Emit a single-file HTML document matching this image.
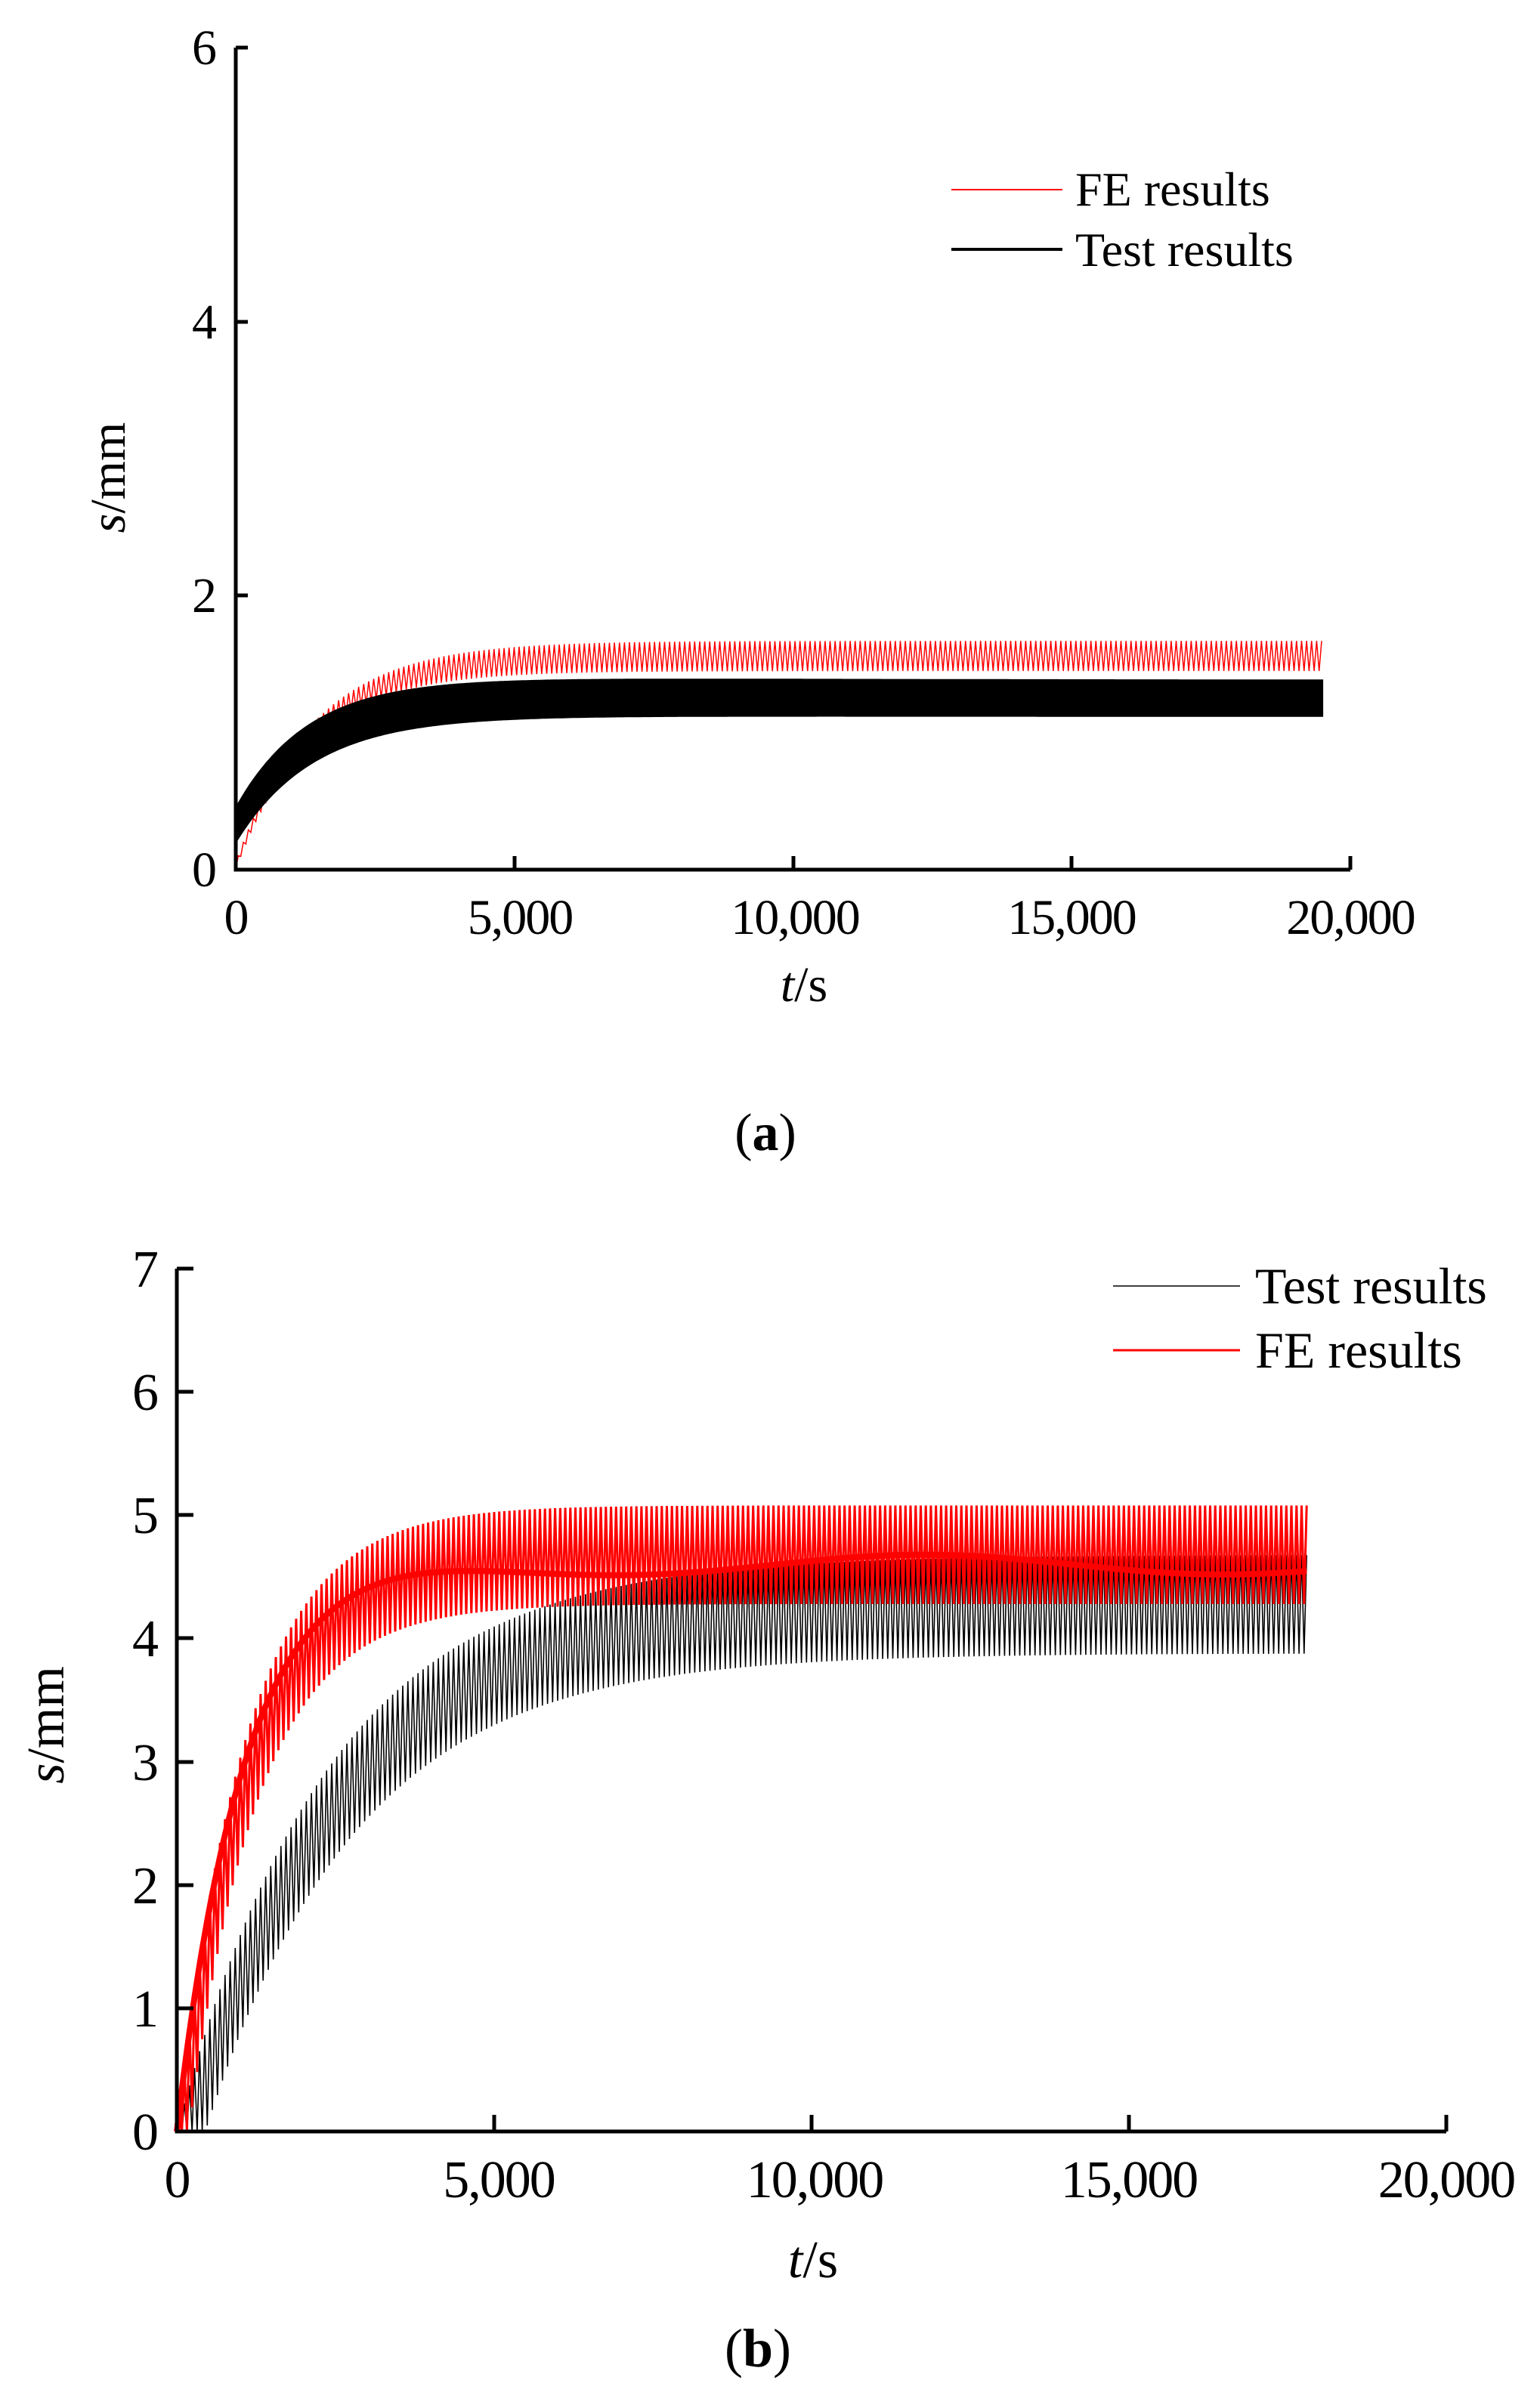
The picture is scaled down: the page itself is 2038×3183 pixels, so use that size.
<!DOCTYPE html>
<html><head><meta charset="utf-8">
<style>
html,body{margin:0;padding:0;background:#fff;}
svg{display:block;}
</style></head>
<body>
<svg id="s" width="2038" height="3183" xmlns="http://www.w3.org/2000/svg" font-family="Liberation Serif, Times New Roman, serif">
<g id="a"></g>
<g id="b"></g>
<!-- Panel a axes -->
<g stroke="#000" stroke-width="5" fill="none">
<path d="M312,63 L312,1151 L1787,1151"/>
<path d="M312,63 h16 M312,426 h16 M312,788 h16 M312,1151 h16"/>
<path d="M681,1151 v-18 M1050,1151 v-18 M1418,1151 v-18 M1787,1151 v-18"/>
</g>
<g font-size="66" text-anchor="end">
<text x="287" y="85">6</text><text x="287" y="448">4</text><text x="287" y="810">2</text><text x="287" y="1173">0</text>
</g>
<g font-size="66" text-anchor="middle" letter-spacing="-2">
<text x="312" y="1236">0</text><text x="688" y="1236">5,000</text><text x="1052" y="1236">10,000</text><text x="1418" y="1236">15,000</text><text x="1787" y="1236">20,000</text>
</g>
<text x="1064" y="1325" font-size="66" text-anchor="middle"><tspan font-style="italic">t</tspan>/s</text>
<text transform="translate(165,632) rotate(-90)" font-size="66" text-anchor="middle"><tspan font-style="italic">s</tspan>/mm</text>
<text x="1013" y="1522" font-size="70" text-anchor="middle">(<tspan font-weight="bold">a</tspan>)</text>
<line x1="1259" y1="251" x2="1406" y2="251" stroke="#f00" stroke-width="2"/>
<line x1="1259" y1="330" x2="1406" y2="330" stroke="#000" stroke-width="4"/>
<text x="1423" y="272" font-size="64">FE results</text>
<text x="1423" y="352" font-size="64">Test results</text>
<!-- Panel b axes -->
<g stroke="#000" stroke-width="5" fill="none">
<path d="M234,1679 L234,2821 L1914,2821"/>
<path d="M234,1679 h22 M234,1842 h22 M234,2005 h22 M234,2168 h22 M234,2332 h22 M234,2495 h22 M234,2658 h22"/>
<path d="M654,2821 v-22 M1074,2821 v-22 M1494,2821 v-22 M1914,2821 v-22"/>
</g>
<g font-size="70" text-anchor="end">
<text x="210" y="1703">7</text><text x="210" y="1866">6</text><text x="210" y="2029">5</text><text x="210" y="2192">4</text><text x="210" y="2356">3</text><text x="210" y="2519">2</text><text x="210" y="2682">1</text><text x="210" y="2845">0</text>
</g>
<g font-size="70" text-anchor="middle" letter-spacing="-2">
<text x="234" y="2908">0</text><text x="660" y="2908">5,000</text><text x="1078" y="2908">10,000</text><text x="1494" y="2908">15,000</text><text x="1914" y="2908">20,000</text>
</g>
<text x="1076" y="3014" font-size="70" text-anchor="middle"><tspan font-style="italic">t</tspan>/s</text>
<text transform="translate(84,2283) rotate(-90)" font-size="70" text-anchor="middle"><tspan font-style="italic">s</tspan>/mm</text>
<text x="1003" y="3132" font-size="72" text-anchor="middle">(<tspan font-weight="bold">b</tspan>)</text>
<line x1="1473" y1="1702" x2="1641" y2="1702" stroke="#000" stroke-width="1.5"/>
<line x1="1473" y1="1787" x2="1641" y2="1787" stroke="#f00" stroke-width="3"/>
<text x="1661" y="1725" font-size="68">Test results</text>
<text x="1661" y="1810" font-size="68">FE results</text>
</svg>
<script>
function zig(x0,y0,sx,sy,tEnd,per,lo,hi){
  var d="";
  for(var t=0;t<=tEnd;t+=per){
    var a=x0+t*sx, b=x0+(t+per*0.5)*sx;
    d+=(t==0?"M":"L")+a.toFixed(1)+","+(y0-lo(t)*sy).toFixed(1)+"L"+b.toFixed(1)+","+(y0-hi(t+per*0.5)*sy).toFixed(1);
  }
  return d;
}
function E(t,tau){return 1-Math.exp(-t/tau);}
var NS="http://www.w3.org/2000/svg";
function add(g,d,c,w,fill){var p=document.createElementNS(NS,"path");p.setAttribute("d",d);p.setAttribute("stroke",c);p.setAttribute("stroke-width",w);p.setAttribute("fill",fill||"none");document.getElementById(g).appendChild(p);}
// Panel a
var ax=312,ay=1151,asx=1475/20000,asy=181.3;
add("a",zig(ax,ay,asx,asy,19500,90,function(t){return 1.45*E(t,1300);},function(t){return 0.05+1.62*E(t,1400);}),"#f00",1.5);
var ptsU=[],ptsL=[];
for(var t=0;t<=19500;t+=50){
  var u=0.45+0.96*E(t,1300)-0.03*E(t,8000);
  var l=0.2+0.93*E(t,1400)-0.01*E(t,8000);
  ptsU.push([ax+t*asx,ay-u*asy]);ptsL.push([ax+t*asx,ay-l*asy]);
}
var d="M"+ptsU.map(function(p){return p[0].toFixed(1)+","+p[1].toFixed(1);}).join("L");
d+="L"+ptsL.reverse().map(function(p){return p[0].toFixed(1)+","+p[1].toFixed(1);}).join("L")+"Z";
add("a",d,"#000",2,"#000");
// Panel b
var bx=234,by=2821,bsx=1680/20000,bsy=163.1;
function bh(t){return 4.68*E(t,2400);}
add("b",zig(bx,by,bsx,bsy,17800,80,function(t){return Math.max(0,bh(t)-0.8);},bh),"#000",1.6);
function rh(t){return 5.08*E(t,1100);}
add("b",zig(bx,by,bsx,bsy,17800,80,function(t){return Math.max(0,rh(t)-0.8);},rh),"#f00",3);
var m="";
for(var t=0;t<=17800;t+=40){var v=4.6*E(t,1050)+0.08*Math.sin(t/1500);m+=(t==0?"M":"L")+(bx+t*bsx).toFixed(1)+","+(by-v*bsy).toFixed(1);}
add("b",m,"#f00",8);
</script>
</body></html>
